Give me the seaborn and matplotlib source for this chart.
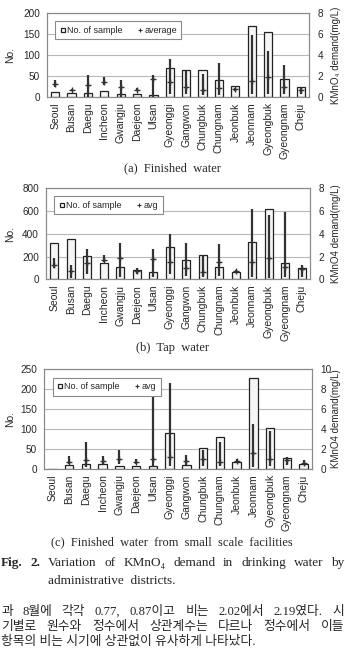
import numpy as np
import pandas as pd
import seaborn as sns
import matplotlib.pyplot as plt
from matplotlib.lines import Line2D

W, H = 345, 662

districts = ['Seoul', 'Busan', 'Daegu', 'Incheon', 'Gwangju', 'Daejeon', 'Ulsan',
             'Gyeonggi', 'Gangwon', 'Chungbuk', 'Chungnam', 'Jeonbuk', 'Jeonnam',
             'Gyeongbuk', 'Gyeongnam', 'Cheju']

# (a) finished water
count_a = [12, 10, 10, 14, 7, 7, 5, 68, 63, 63, 40, 25, 170, 156, 42, 24]
min_a = [0.9, 0.5, 0.0, 1.1, 0.0, 0.5, 0.0, 0.3, 0.3, 0.15, 0.2, 0.5, 0.3, 0.3, 0.25, 0.3]
max_a = [1.6, 0.7, 2.1, 1.85, 1.6, 0.8, 2.1, 3.6, 2.5, 2.2, 3.2, 0.8, 5.9, 4.4, 3.05, 0.8]
avg_a = [1.2, 0.6, 1.1, 1.4, 0.9, 0.65, 1.7, 1.45, 0.9, 0.6, 0.8, 0.7, 1.55, 1.9, 0.9, 0.6]

# (b) tap water
count_b = [323, 353, 206, 147, 106, 82, 65, 288, 170, 215, 112, 68, 332, 615, 141, 97]
min_b = [0.95, 0.1, 0.5, 1.5, 0.2, 0.5, 0.2, 0.5, 0.3, 0.2, 0.3, 0.6, 0.2, 0.1, 0.2, 0.2]
max_b = [1.85, 1.3, 2.7, 2.15, 3.2, 0.95, 2.65, 4.0, 3.2, 2.15, 3.1, 0.8, 6.2, 5.65, 5.95, 1.25]
avg_b = [1.3, 0.7, 1.4, 1.7, 1.85, 0.75, 1.75, 1.5, 0.97, 0.6, 1.5, 0.7, 1.5, 1.9, 1.1, 0.9]

# (c) finished water from small scale facilities
count_c = [0, 9, 13, 11, 8, 8, 7.5, 90, 10, 51, 80, 17, 229, 103, 26, 13]
min_c = [np.nan, 0.5, 0.2, 0.5, 0.5, 0.5, 0.2, 0.3, 0.37, 0.27, 0.27, 0.63, 0.2, 0.27, 0.37, 0.37]
max_c = [np.nan, 1.27, 2.7, 1.27, 1.87, 1.0, 8.25, 8.6, 1.37, 1.87, 2.7, 0.93, 4.5, 3.8, 1.13, 0.87]
avg_c = [np.nan, 0.7, 0.9, 0.8, 1.0, 0.7, 1.0, 1.2, 0.8, 1.0, 0.7, 0.8, 1.6, 0.93, 0.9, 0.6]

sns.set_theme(style='white')
plt.rcParams['font.family'] = ['Liberation Sans', 'DejaVu Sans']

fig = plt.figure(figsize=(W / 100, H / 100), dpi=100)


def draw_panel(left, top, width, height, counts, lo, hi, avg, ymax, ystep, rmax, avg_name, rlabel):
    ax = fig.add_axes([left / W, 1 - (top + height) / H, width / W, height / H])
    df = pd.DataFrame({'district': districts, 'count': counts})
    sns.barplot(data=df, x='district', y='count', ax=ax, color='#f5f5f5',
                edgecolor='#222222', linewidth=0.9, width=0.5, saturation=1)
    ax.set_axisbelow(True)
    ax.yaxis.grid(True, color='#b8b8b8', lw=0.8)
    ax.set_ylim(0, ymax)
    ax.set_yticks(np.arange(0, ymax + 1, ystep))
    ax.set_xlabel('')
    ax.set_ylabel('No.', fontsize=7.5)
    ax.yaxis.set_label_coords((15 - left) / width, 0.5)
    ax.tick_params(axis='y', labelsize=7.2, length=0, pad=5)
    ax.tick_params(axis='x', labelsize=7.5, length=0, pad=4, labelrotation=90)
    ax.set_xticks(np.arange(len(districts) + 1) - 0.5, minor=True)
    ax.tick_params(axis='x', which='minor', length=2.5, width=0.7, color='#666666', direction='out')

    ax2 = ax.twinx()
    x = np.arange(len(districts))
    ax2.vlines(x, lo, hi, color='#333333', lw=1.6)
    ax2.plot(x, avg, ls='none', marker='+', ms=4, mew=1, color='#333333')
    ax2.set_ylim(0, rmax)
    ax2.set_yticks(np.arange(0, rmax + 1, 2))
    ax2.tick_params(axis='y', labelsize=7.2, length=0, pad=6)
    ax2.set_ylabel(rlabel, fontsize=7)
    ax2.yaxis.set_label_coords((331 - left) / width, 0.5)
    ax.set_xlim(-0.5, len(districts) - 0.5)

    for a in (ax, ax2):
        for s in a.spines.values():
            s.set_color('#8a8a8a')
            s.set_linewidth(0.8)

    handles = [Line2D([], [], ls='none', marker='s', ms=3.5, mfc='white', mec='#222222', mew=0.9),
               Line2D([], [], ls='none', marker='+', ms=3, mew=0.8, color='#333333')]
    leg = ax2.legend(handles, ['No. of sample', avg_name], ncol=2, loc='upper left',
                     bbox_to_anchor=(0.015, 0.96), fontsize=6.5, frameon=True, fancybox=False,
                     handlelength=0.6, handletextpad=0.2, columnspacing=1.6, borderpad=0.5,
                     framealpha=1)
    leg.get_frame().set_edgecolor('#8a8a8a')
    leg.get_frame().set_linewidth(0.8)
    leg.set_zorder(5)
    return ax


draw_panel(47, 13.3, 262, 83.4, count_a, min_a, max_a, avg_a,
           200, 50, 8, 'average', 'KMnO₄ demand(mg/L)')
draw_panel(46, 188.3, 264, 91, count_b, min_b, max_b, avg_b,
           800, 200, 8, 'avg', 'KMnO4 demand(mg/L)')
draw_panel(44, 369.3, 268, 99.4, count_c, min_c, max_c, avg_c,
           250, 50, 10, 'avg', 'KMnO4 demand(mg/L)')

serif = ['Liberation Serif', 'DejaVu Serif']
kor = ['Liberation Serif', 'Noto Sans CJK KR']

fig.text(172 / W, 1 - 168 / H, '(a)  Finished  water', ha='center', va='center', family=serif, fontsize=9)
fig.text(172 / W, 1 - 348 / H, '(b)  Tap  water', ha='center', va='center', family=serif, fontsize=9)
fig.text(172 / W, 1 - 542 / H, '(c)  Finished  water  from  small  scale  facilities',
         ha='center', va='center', family=serif, fontsize=9)

renderer = fig.canvas.get_renderer()


def justify(words, y, x0, x1, family, size, bold=()):
    texts = []
    for i, w in enumerate(words):
        t = fig.text(0, 1 - y / H, w, ha='left', va='center', family=family, fontsize=size,
                     weight='bold' if i in bold else 'normal')
        texts.append(t)
    widths = [t.get_window_extent(renderer).width for t in texts]
    gap = (x1 - x0 - sum(widths)) / (len(words) - 1)
    x = x0
    for t, w in zip(texts, widths):
        t.set_x(x / W)
        x += w + gap


justify(['Fig.', '2.', 'Variation', 'of', 'KMnO₄', 'demand', 'in', 'drinking', 'water', 'by'],
        563, 1, 344, serif, 9.5, bold=(0, 1))
fig.text(48 / W, 1 - 581 / H, 'administrative  districts.', ha='left', va='center',
         family=serif, fontsize=9.5)

justify(['과', '8월에', '각각', '0.77,', '0.87이고', '비는', '2.02에서', '2.19였다.', '시'],
        612, 1, 344, kor, 9.2)
justify(['기별로', '원수와', '정수에서', '상관계수는', '다르나', '정수에서', '이들'],
        627, 1, 344, kor, 9.2)
fig.text(1 / W, 1 - 642 / H, '항목의 비는 시기에 상관없이 유사하게 나타났다.', ha='left', va='center',
         family=kor, fontsize=9.2)

fig.savefig('out.png', dpi=100)
